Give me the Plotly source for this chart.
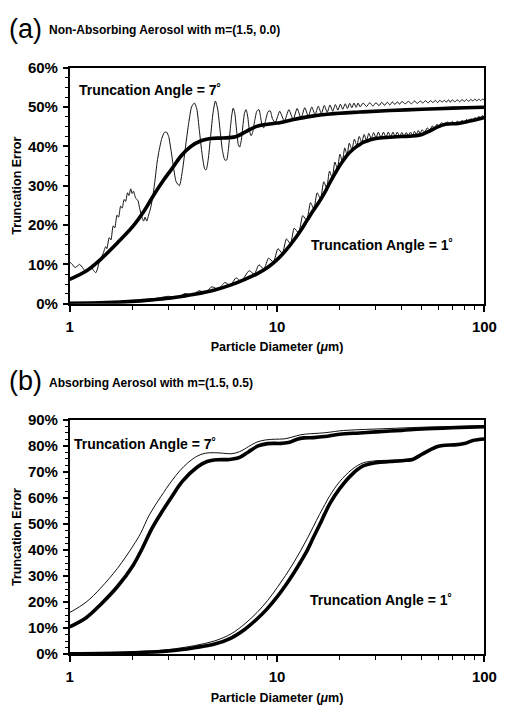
import plotly.graph_objects as go

# ---------------- Panel (a): non-absorbing aerosol m=(1.5, 0.0) ----------------
a7_thin_d = [1.00, 1.03, 1.06, 1.09, 1.117, 1.16, 1.20, 1.235, 1.27, 1.30, 1.337, 1.36, 1.385,
             1.45, 1.49, 1.51, 1.55, 1.58, 1.62, 1.65, 1.69, 1.72, 1.76, 1.79, 1.83, 1.86, 1.90,
             1.93, 1.97, 2.00, 2.03, 2.08, 2.13, 2.18, 2.23, 2.27, 2.31, 2.35, 2.40, 2.46, 2.52,
             2.58, 2.64, 2.70, 2.78, 2.86, 2.93, 3.00, 3.08, 3.17, 3.26, 3.38, 3.50, 3.62, 3.75,
             3.87, 3.99, 4.10, 4.22, 4.35, 4.48, 4.55, 4.65, 4.78, 4.91, 5.04, 5.17, 5.30, 5.45,
             5.60, 5.71, 5.82, 5.95, 6.05, 6.14, 6.25, 6.38, 6.50, 6.60, 6.72, 6.85, 6.97, 7.09,
             7.22, 7.36, 7.50, 7.62, 7.80, 8.00, 8.18, 8.35, 8.50, 8.62, 8.80, 9.05, 9.27, 9.50,
             9.80, 10.05, 10.3, 10.85, 11.4, 11.95, 12.5, 13.05, 13.6, 14.15, 14.7, 15.25, 15.8,
             16.35, 16.9, 17.45, 18.0, 18.55, 19.1, 19.65, 20.2, 20.75, 21.3, 21.85, 22.4, 22.95,
             23.5, 24.05, 24.6, 25.15, 26, 27, 28, 29, 30, 31, 32, 33, 34, 35, 36, 37, 38, 39, 40,
             41.5, 43, 44.5, 46, 47.5, 49, 50.5, 52, 53.5, 55, 56.5, 58, 59.5, 61, 62.5, 64, 65.5,
             67, 68.5, 70, 72, 74, 76, 78, 80, 82, 84, 86, 88, 90, 92, 94, 96, 98, 100]
a7_thin_v = [10.6, 10.0, 9.2, 9.6, 10.0, 9.0, 7.9, 8.6, 9.2, 8.5, 7.9, 8.8, 10.4,
             12.8, 14.5, 14.0, 16.8, 16.2, 19.8, 19.3, 22.5, 22.0, 24.8, 24.3, 26.5, 26.0, 28.2,
             27.5, 29.2, 28.0, 28.6, 26.8, 26.3, 24.0, 22.0, 21.0, 22.0, 21.0, 22.5, 24.5, 27.5,
             31.5, 36.0, 39.0, 42.0, 43.5, 43.6, 42.5, 39.0, 34.5, 31.0, 30.0, 34.0, 40.0, 46.0,
             50.0, 51.0, 49.5, 44.0, 38.0, 34.2, 34.0, 36.5, 42.5, 48.5, 51.5, 49.5, 44.5, 39.0,
             36.5, 36.5, 39.0, 44.5, 48.0, 49.7, 48.5, 44.0, 40.5, 39.8, 41.5, 45.5, 48.5, 49.3,
             47.5, 44.0, 42.7, 43.5, 46.5, 49.0, 49.3, 47.0, 45.0, 44.7, 46.5, 48.8, 49.0, 47.0,
             46.0, 47.5, 48.9, 46.4, 49.3, 46.8, 49.6, 47.2, 49.8, 47.6, 50.0, 48.0, 50.2,
             48.3, 50.4, 48.6, 50.5, 48.9, 50.6, 49.2, 50.7, 49.4, 50.8, 49.6, 50.9, 49.8,
             51.0, 49.9, 51.0, 50.0, 51.0, 50.1, 51.1, 50.2, 51.1, 50.3, 51.2, 50.4, 51.2, 50.5, 51.3, 50.6, 51.3, 50.7, 51.4,
             50.8, 51.4, 50.8, 51.5, 50.9, 51.5, 51.0, 51.6, 51.0, 51.6, 51.1, 51.7, 51.1, 51.7, 51.2, 51.7, 51.2,
             51.8, 51.2, 51.8, 51.3, 51.8, 51.3, 51.9, 51.4, 51.9, 51.4, 51.9, 51.5, 52.0, 51.5, 52.0, 51.6, 52.0, 51.7]

a7_thick_d = [1, 1.2, 1.41, 1.7, 2.02, 2.3, 2.5, 2.8, 3.1, 3.45, 3.85, 4.3, 4.77, 5.5, 6.3, 7.0,
              7.9, 9, 10, 12, 14.5, 18, 25, 35, 50, 70, 100]
a7_thick_v = [6.2, 8.3, 11.3, 15.5, 19.7, 23.8, 27.0, 31.0, 34.2, 37.6, 40.0, 41.4, 42.0, 42.1,
              42.4, 43.6, 45.0, 45.6, 45.9, 46.8, 47.6, 48.2, 48.7, 49.1, 49.4, 49.7, 49.9]

a1_thin_d = [1, 2, 2.5, 3, 3.3, 3.6, 3.9, 4.2, 4.5, 4.85, 5.2, 5.6, 5.95, 6.35, 6.7,
             7.34, 7.76, 8.18, 8.64, 9.10, 9.60, 10.1, 10.6, 11.1, 11.6, 12.1, 12.7, 13.3, 13.9,
             14.5, 15.05, 15.6, 16.2, 16.8, 17.35, 17.9, 18.45, 19.0, 19.55, 20.1, 20.65, 21.2,
             21.75, 22.3, 22.95, 23.6, 24.25, 24.9, 25.6, 26.3, 27.0, 27.7, 28.45, 29.2, 30.0,
             30.8, 31.7, 32.6, 33.5, 34.4, 35.3, 36.2, 37.1, 38.0, 39.0, 40.0, 41.0, 42.0, 43.0,
             44.0, 45.0, 46.0, 47.0, 48.0, 49.0, 50.0, 51.5, 53, 54.5, 56, 57.5, 59, 60.5, 62, 64,
             66, 68, 70, 72, 74, 76, 78, 80, 82, 84, 86, 88, 90, 92, 94, 96, 98, 100]
a1_thin_v = [0.1, 0.7, 1.2, 1.9, 1.6, 2.6, 2.2, 3.3, 2.9, 4.3, 3.7, 5.4, 4.7, 6.6, 5.7,
             8.4, 7.5, 9.9, 8.8, 11.6, 10.6, 14.0, 12.8, 16.5, 15.2, 19.2, 18.0, 22.4, 21.2,
             25.7, 24.1, 28.2, 26.7, 31.0, 29.4, 33.7, 32.0, 36.0, 34.3, 38.0, 36.2, 39.6,
             37.8, 40.8, 39.2, 41.8, 40.2, 42.5, 41.0, 43.0, 41.5, 43.3, 41.9, 43.5, 42.1,
             43.6, 42.2, 43.6, 42.3, 43.6, 42.4, 43.6, 42.5, 43.6, 42.5, 43.5, 42.6, 43.5, 42.7,
             43.6, 42.8, 43.8, 43.0, 44.0, 43.2, 44.2, 43.6, 44.7, 44.1, 45.2, 44.6, 45.6, 45.1, 46.0, 45.5,
             46.2, 45.7, 46.3, 45.8, 46.4, 45.9, 46.6, 46.1, 46.8, 46.3, 47.0, 46.6, 47.3, 46.9, 47.6, 47.2, 47.8, 47.4]

a1_thick_d = [1, 1.5, 2, 2.5, 3, 3.5, 4, 5, 6, 7, 8, 9, 10, 11, 12, 13, 14, 15, 16, 17, 18, 19,
              20, 21, 22, 23, 24, 25, 26, 28, 30, 35, 40, 45, 50, 55, 60, 65, 75, 85, 100]
a1_thick_v = [0.1, 0.3, 0.6, 1.0, 1.4, 1.9, 2.4, 3.5, 4.8, 6.2, 7.6, 9.2, 11.2, 13.5, 16.0, 18.6,
              21.3, 23.8, 26.0, 28.3, 30.8, 33.0, 35.0, 36.6, 38.0, 39.0, 39.8, 40.4, 41.0, 41.6,
              42.0, 42.3, 42.5, 42.6, 43.0, 44.0, 45.0, 45.6, 45.8, 46.4, 47.3]

# ---------------- Panel (b): absorbing aerosol m=(1.5, 0.5) ----------------
b7_thin_d = [1, 1.2, 1.41, 1.7, 2.02, 2.2, 2.42, 2.75, 3.1, 3.4, 3.71, 4.1, 4.5, 5.0, 5.5, 6.0,
             6.6, 7.3, 8.0, 8.8, 9.8, 10.8, 11.8, 13, 14.5, 16, 18, 20, 24, 30, 40, 50, 70, 100]
b7_thin_v = [16.0, 20.0, 25.4, 33.0, 41.6, 46.5, 53.5, 60.5, 66.5, 70.5, 73.5, 76.0, 77.2, 77.4,
             77.2, 77.0, 77.8, 79.8, 81.5, 82.3, 82.6, 82.7, 83.4, 84.3, 84.7, 84.9, 85.3, 85.8,
             86.2, 86.5, 86.9, 87.2, 87.5, 87.8]

b7_thick_d = [1, 1.2, 1.41, 1.7, 2.02, 2.25, 2.5, 2.8, 3.1, 3.5, 4.14, 4.6, 5.2, 5.9, 6.6, 7.3,
              8.1, 9.0, 10.5, 11.5, 12.5, 13.5, 15, 17, 20, 25, 30, 40, 50, 70, 100]
b7_thick_v = [10.5, 14.0, 19.1, 26.0, 34.1, 41.0, 48.5, 55.0, 60.4, 66.5, 72.0, 74.0, 74.7, 74.8,
              75.6, 77.8, 80.0, 80.9, 81.0, 81.4, 82.6, 83.1, 83.2, 83.6, 84.5, 85.0, 85.4, 86.0,
              86.5, 87.0, 87.4]

b1_thin_d = [1, 2, 3, 4, 5, 6, 7, 8, 9, 10, 11, 12, 13, 14, 15, 16, 17, 18, 20, 23, 26, 30, 35,
             42, 45, 50, 55, 60, 65, 72, 80, 88, 100]
b1_thin_v = [0.3, 0.9, 1.8, 3.3, 5.1, 7.8, 11.7, 16.0, 20.6, 25.5, 30.3, 35.0, 39.8, 44.5, 49.2,
             53.6, 57.5, 61.0, 66.2, 71.0, 73.5, 74.3, 74.5, 74.8, 75.1, 77.1, 78.9, 80.1, 80.5,
             80.6, 81.1, 82.3, 82.9]

b1_thick_d = [1, 2, 3, 4, 5, 6, 7, 8, 9, 10, 11, 12, 13, 14, 15, 16, 17, 18, 20, 23, 26, 30, 35,
              42, 45, 50, 55, 60, 65, 72, 80, 88, 100]
b1_thick_v = [0.1, 0.5, 1.2, 2.5, 3.9, 6.2, 9.6, 13.5, 17.6, 22.0, 26.5, 31.0, 35.5, 40.0, 45.0,
              49.5, 54.0, 57.9, 63.5, 69.1, 72.3, 73.6, 74.0, 74.5, 74.8, 76.8, 78.6, 79.9, 80.3,
              80.4, 80.9, 82.1, 82.7]

x_tickvals = [1, 10, 100]
x_ticktext = ["1", "10", "100"]
x_minor = [2, 3, 4, 5, 6, 7, 8, 9, 20, 30, 40, 50, 60, 70, 80, 90]
ya_ticks = [0, 10, 20, 30, 40, 50, 60]
yb_ticks = [0, 10, 20, 30, 40, 50, 60, 70, 80, 90]

W, H = 509, 710
FONT = "Liberation Sans, Arial, Helvetica, sans-serif"

def px(x):
    return x / W

def py(y):
    return 1 - y / H

fig = go.Figure()

thin = dict(color="#111111", width=1)
thick = dict(color="black", width=3.6)

fig.add_trace(go.Scatter(x=a7_thin_d, y=a7_thin_v, mode="lines", line=dict(**thin, shape="spline", smoothing=0.6), xaxis="x", yaxis="y"))
fig.add_trace(go.Scatter(x=a1_thin_d, y=a1_thin_v, mode="lines", line=dict(**thin, shape="spline", smoothing=0.6), xaxis="x", yaxis="y"))
fig.add_trace(go.Scatter(x=a7_thick_d, y=a7_thick_v, mode="lines", line=dict(**thick, shape="spline"), xaxis="x", yaxis="y"))
fig.add_trace(go.Scatter(x=a1_thick_d, y=a1_thick_v, mode="lines", line=dict(**thick, shape="spline"), xaxis="x", yaxis="y"))

fig.add_trace(go.Scatter(x=b7_thin_d, y=b7_thin_v, mode="lines", line=dict(**thin, shape="spline"), xaxis="x2", yaxis="y2"))
fig.add_trace(go.Scatter(x=b1_thin_d, y=b1_thin_v, mode="lines", line=dict(**thin, shape="spline"), xaxis="x2", yaxis="y2"))
fig.add_trace(go.Scatter(x=b7_thick_d, y=b7_thick_v, mode="lines", line=dict(**thick, shape="spline"), xaxis="x2", yaxis="y2"))
fig.add_trace(go.Scatter(x=b1_thick_d, y=b1_thick_v, mode="lines", line=dict(**thick, shape="spline"), xaxis="x2", yaxis="y2"))

tickfont = dict(family=FONT, size=15, color="black", weight="bold")
titlefont = dict(family=FONT, size=12.5, color="black", weight="bold")

def xaxis_cfg(domain_y_anchor):
    return dict(
        type="log", range=[0, 2], domain=[px(68), px(497)], anchor=domain_y_anchor,
        tickvals=x_tickvals, ticktext=x_ticktext, ticks="outside", ticklen=6, tickwidth=1.5,
        tickcolor="black", minor=dict(tickvals=x_minor, ticks="outside", ticklen=4, tickwidth=1, tickcolor="black"),
        showline=True, linewidth=1.5, linecolor="black", mirror=True, showgrid=False, zeroline=False,
        tickfont=tickfont, ticklabelstandoff=2, ticklabeloverflow="allow",
        title=dict(text="Particle Diameter (<i>\u03bc</i>m)", font=titlefont, standoff=9),
    )

def yaxis_cfg(domain, rng, ticks, x_anchor):
    return dict(
        range=rng, domain=domain, anchor=x_anchor, tickmode="array", tickvals=ticks,
        ticktext=[f"{t}%" for t in ticks],
        ticks="outside", ticklen=5, tickwidth=1.5, tickcolor="black",
        minor=dict(dtick=2.5, ticks="outside", ticklen=3, tickwidth=1, tickcolor="black"),
        showline=True, linewidth=1.5, linecolor="black", mirror=True, showgrid=False, zeroline=False,
        tickfont=tickfont, ticklabelstandoff=2, ticklabeloverflow="allow",
        title=dict(text="Truncation Error", font=titlefont, standoff=4),
    )

fig.update_layout(
    width=W, height=H, margin=dict(l=0, r=0, t=0, b=0),
    paper_bgcolor="white", plot_bgcolor="white", showlegend=False,
    xaxis=xaxis_cfg("y"),
    yaxis=yaxis_cfg([py(302), py(60)], [0, 60], ya_ticks, "x"),
    xaxis2=xaxis_cfg("y2"),
    yaxis2=yaxis_cfg([py(661), py(421)], [0, 90], yb_ticks, "x2"),
)

ann = []
def add_text(text, x, y, size, bold=True, xanchor="left"):
    f = dict(family=FONT, size=size, color="black")
    if bold:
        f["weight"] = "bold"
    ann.append(dict(text=text, x=px(x), y=py(y), xref="paper", yref="paper",
                    xanchor=xanchor, yanchor="middle", showarrow=False, font=f))

add_text("(a)", 3, 20, 27, bold=False)
add_text("Non-Absorbing Aerosol with m=(1.5, 0.0)", 45, 22, 12)
add_text("(b)", 3, 381, 27, bold=False)
add_text("Absorbing Aerosol with m=(1.5, 0.5)", 45, 383, 12)
add_text("Truncation Angle = 7\u02da", 76, 83, 14)
add_text("Truncation Angle = 1\u02da", 316, 242, 14)
add_text("Truncation Angle = 7\u02da", 70, 446, 14)
add_text("Truncation Angle = 1\u02da", 314, 606, 14)
fig.update_layout(annotations=ann)

fig.write_html("out.html", config={"displayModeBar": False},
               post_script="document.body.style.margin='0';document.body.style.overflow='hidden';")
